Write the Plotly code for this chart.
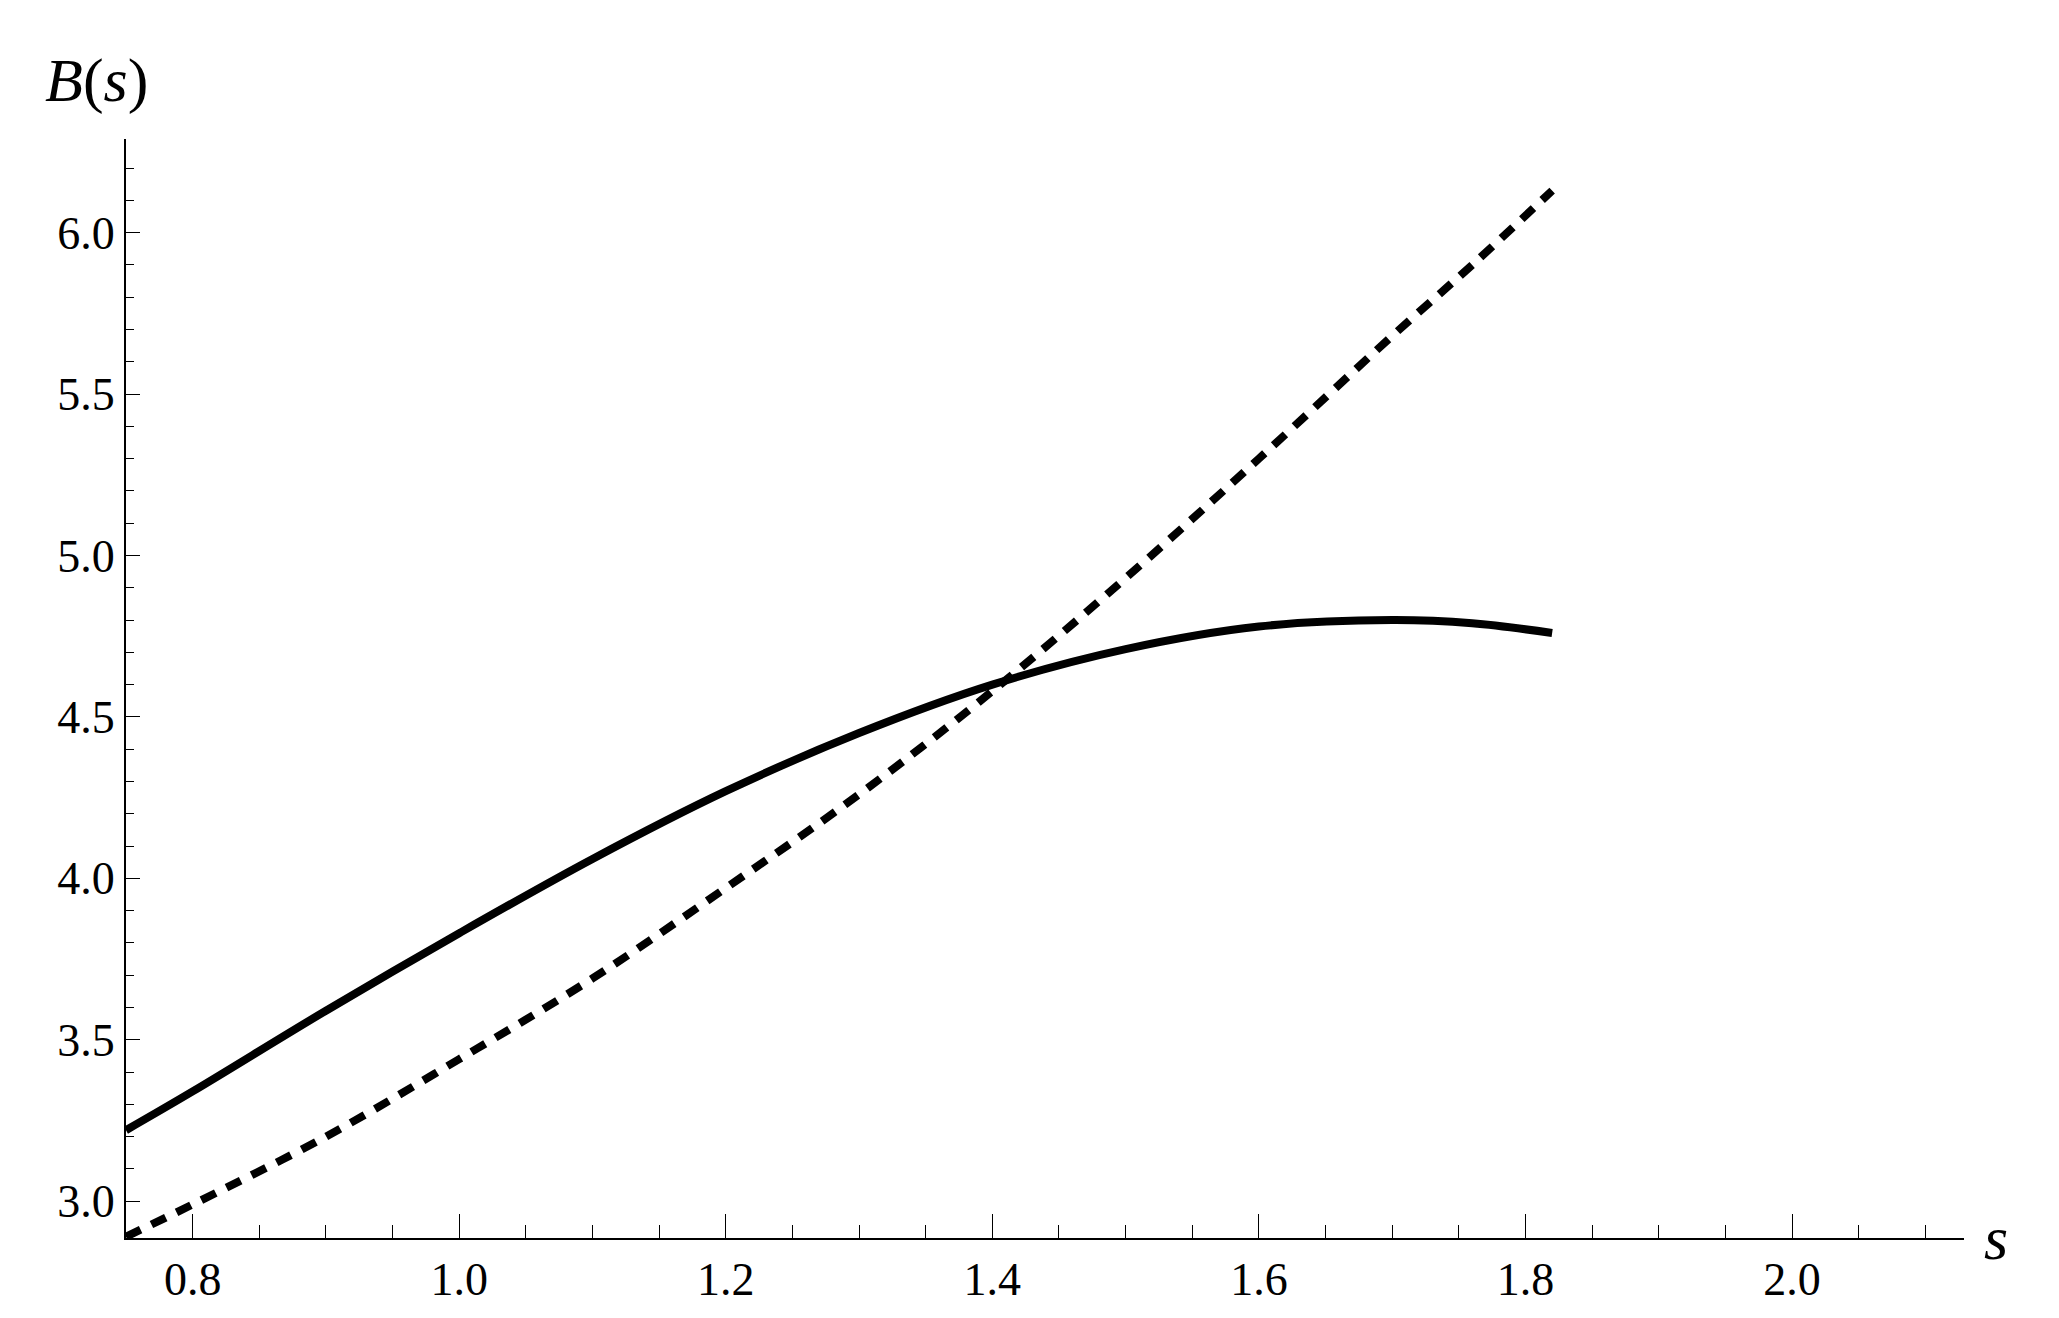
import plotly.graph_objects as go

s_vals = [0.75, 0.8, 0.9, 1.0, 1.1, 1.2, 1.3, 1.4, 1.5, 1.6, 1.7, 1.76, 1.82]
solid = [3.22, 3.34, 3.59, 3.83, 4.06, 4.27, 4.45, 4.60, 4.71, 4.78, 4.80, 4.79, 4.76]
dotted = [2.89, 2.99, 3.20, 3.44, 3.69, 3.97, 4.26, 4.58, 4.93, 5.30, 5.68, 5.90, 6.13]

fig = go.Figure()
fig.add_trace(go.Scatter(x=s_vals, y=solid, mode="lines", line=dict(color="black", width=8, shape="spline")))
fig.add_trace(go.Scatter(x=s_vals, y=dotted, mode="lines", line=dict(color="black", width=8, dash="16px,12px", shape="spline")))

font = dict(family="Liberation Serif", size=46, color="black")
fig.update_layout(
    width=2059, height=1318, showlegend=False,
    plot_bgcolor="white", paper_bgcolor="white",
    margin=dict(l=118, r=103, t=131, b=88),
    font=font,
    xaxis=dict(range=[0.75, 2.129], tickvals=[0.8, 1.0, 1.2, 1.4, 1.6, 1.8, 2.0], ticktext=["0.8", "1.0", "1.2", "1.4", "1.6", "1.8", "2.0"],
               showgrid=False, zeroline=False, showline=True, linecolor="black", linewidth=2,
               ticks="inside", ticklen=24, tickcolor="black",
               minor=dict(dtick=0.05, tick0=0.8, ticks="inside", ticklen=13, tickcolor="black")),
    yaxis=dict(range=[2.886, 6.29], tickvals=[3.0, 3.5, 4.0, 4.5, 5.0, 5.5, 6.0], ticktext=["3.0", "3.5", "4.0", "4.5", "5.0", "5.5", "6.0"],
               showgrid=False, zeroline=False, showline=True, linecolor="black", linewidth=2,
               ticks="inside", ticklen=14, tickcolor="black",
               minor=dict(dtick=0.1, tick0=3.0, ticks="inside", ticklen=8, tickcolor="black")),
)
fig.add_annotation(text="<i>B</i>(<i>s</i>)", xref="paper", yref="paper", x=-0.045, y=1.02, xanchor="left", yanchor="bottom",
                   showarrow=False, font=dict(family="Liberation Serif", size=62, color="black"))
fig.add_annotation(text="<i>s</i>", xref="paper", yref="paper", x=1.01, y=0.0, xanchor="left", yanchor="middle",
                   showarrow=False, font=dict(family="Liberation Serif", size=62, color="black"))
fig.write_html("out.html")
